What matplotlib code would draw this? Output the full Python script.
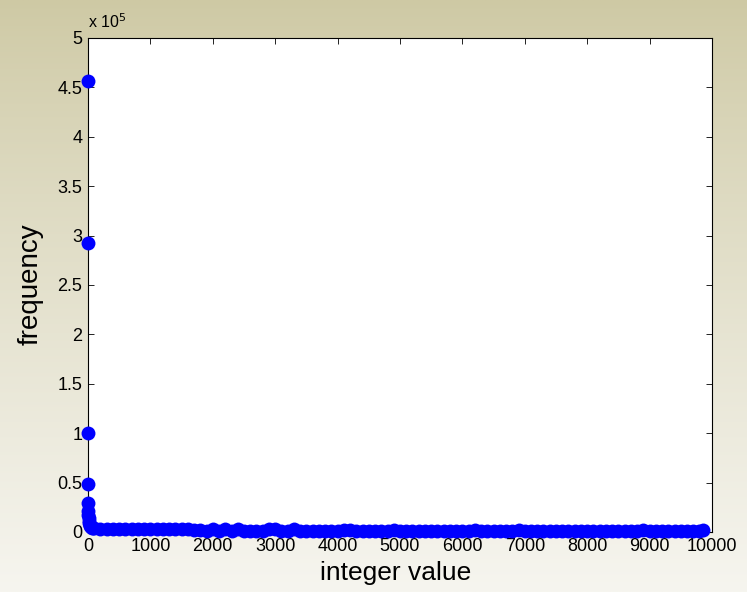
#!/usr/bin/env python3

import numpy as np
import matplotlib
matplotlib.use("Agg")
import matplotlib.pyplot as plt

plt.rcParams['font.family'] = ['Liberation Sans', 'DejaVu Sans']

# the few big counts sitting at the very small integers
head_x = [1, 2, 3, 4, 5, 6, 8, 10, 15, 20, 30, 40, 50, 60, 80, 100]
head_y = [456000, 292000, 100000, 49000, 29000, 21000, 17000, 14000,
          11000, 9000, 7000, 6000, 5000, 4500, 4000, 3800]

# long flat tail, read every 100 integer values
tail_x = list(range(200, 9900, 100)) + [9860]
tail_y = [3000, 3000, 3000, 3000, 2900, 2900, 2900, 2800, 2800, 2800,
          2700, 2700, 2700, 2600, 2600, 2500, 2400,
          1300, 2600, 1300, 2600, 1300, 2600, 1300, 1300, 1300, 1300,
          2600, 2600, 1300, 1300, 2600, 1300, 1300, 1300, 1300, 1300,
          1300, 1300, 2500, 2500, 1300, 1300, 1300, 1200, 1200, 1200,
          2500, 1200, 1200, 1200, 1200, 1200, 1200, 1200, 1200, 1200,
          1200, 1200, 1200, 2500, 1200, 1200, 1200, 1200, 1200, 1200,
          2500, 1200, 1200, 1200, 1200, 1200, 1200, 1200, 1200, 1200,
          1200, 1200, 1200, 1200, 1200, 1200, 1200, 1200, 1200, 1200,
          2500, 1200, 1200, 1200, 1200, 1200, 1200, 1200, 1200, 1200,
          2500]

xticks = [0, 1000, 2000, 3000, 4000, 5000, 6000, 7000, 8000, 9000, 10000]
yticks = [0, 50000, 100000, 150000, 200000, 250000, 300000, 350000,
          400000, 450000, 500000]
ytick_labels = ['0', '0.5', '1', '1.5', '2', '2.5', '3', '3.5', '4', '4.5', '5']


def draw_background(fig):
    top = np.array([206, 201, 164]) / 255.0
    bottom = np.array([246, 245, 239]) / 255.0
    t = np.linspace(0, 1, 256)[:, None, None] ** 0.85
    grad = top * (1 - t) + bottom * t
    grad = np.repeat(grad, 4, axis=1)
    bg = fig.add_axes([0, 0, 1, 1])
    bg.imshow(grad, aspect='auto', extent=[0, 1, 0, 1], interpolation='bilinear')
    bg.axis('off')


def main():
    fig = plt.figure(figsize=(7.47, 5.92), dpi=100)
    draw_background(fig)

    ax = fig.add_axes([0.1178, 0.1014, 0.8353, 0.8345])
    ax.set_facecolor('white')

    x = head_x + tail_x
    y = head_y + tail_y
    ax.plot(x, y, 'o', color='#0000ff', markersize=10, markeredgewidth=0,
            clip_on=False, zorder=3)

    ax.set_xlim(0, 10000)
    ax.set_ylim(0, 500000)
    ax.set_xticks(xticks)
    ax.set_xticklabels([str(v) for v in xticks])
    ax.set_yticks(yticks)
    ax.set_yticklabels(ytick_labels)
    ax.tick_params(direction='in', length=4.5, width=0.6, labelsize=13,
                   top=True, right=True, pad=4)
    for s in ax.spines.values():
        s.set_linewidth(0.8)

    ax.text(0.0, 1.02, r'x 10$^5$', transform=ax.transAxes,
            fontsize=11.5, ha='left', va='baseline')

    ax.set_xlabel('integer value', fontsize=19)
    ax.xaxis.set_label_coords(0.4935, -0.059)
    ax.set_ylabel('frequency', fontsize=20)
    ax.yaxis.set_label_coords(-0.071, 0.502)

    fig.savefig('out.png', dpi=100)


if __name__ == "__main__":
    main()
